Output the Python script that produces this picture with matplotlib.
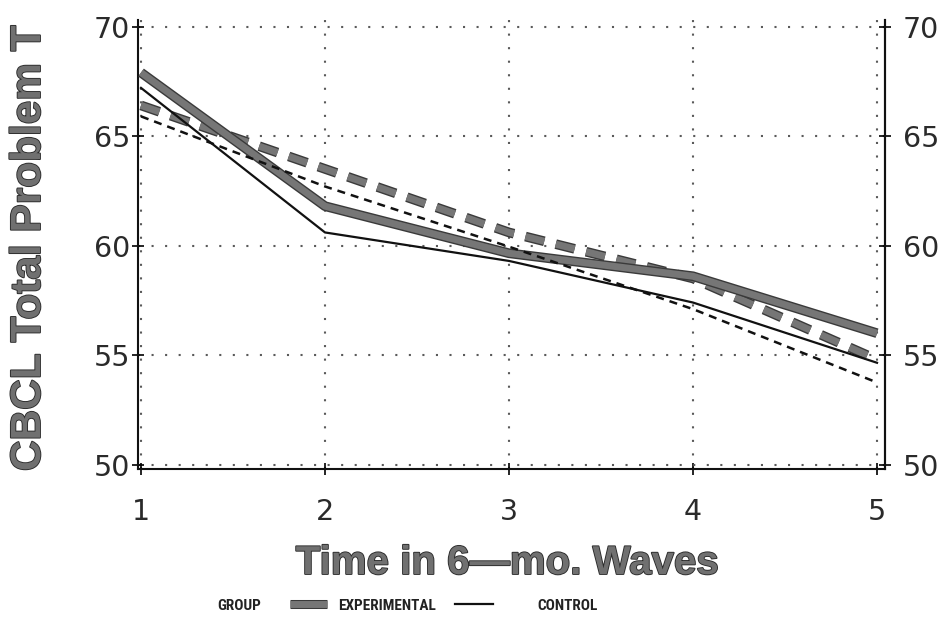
import matplotlib
matplotlib.use("Agg")
import matplotlib.pyplot as plt
import matplotlib.patheffects as pe
from matplotlib.lines import Line2D
from matplotlib import font_manager

# ---- data ----
waves = [1, 2, 3, 4, 5]
exp_observed = [67.9, 61.8, 59.65, 58.6, 56.0]
exp_fitted = [66.4, 63.5, 60.6, 58.5, 54.8]
ctl_observed = [67.2, 60.6, 59.3, 57.4, 54.65]
ctl_fitted = [65.9, 62.7, 59.95, 57.1, 53.75]
y_ticks = [50, 55, 60, 65, 70]
x_label = "Time in 6\u2014mo. Waves"
y_label = "CBCL Total Problem T"
legend_title = "GROUP"
group_names = ["EXPERIMENTAL", "CONTROL"]


def first_font(names):
    for n in names:
        try:
            font_manager.findfont(font_manager.FontProperties(family=n), fallback_to_default=False)
            return n
        except Exception:
            continue
    return None


narrow = first_font(['Liberation Sans Narrow', 'DejaVu Sans Condensed', 'Roboto Condensed'])
leg_family = [narrow, 'DejaVu Sans'] if narrow else ['Liberation Sans', 'DejaVu Sans']
leg_size = 11 if narrow else 9.3

plt.rcParams['font.family'] = ['Liberation Sans', 'DejaVu Sans']

fig = plt.figure(figsize=(9.48, 6.25), dpi=100)
W, H = 948, 625
ax = fig.add_axes([138 / W, 1 - 469 / H, (885 - 138) / W, (469 - 20) / H])

gray = '#767676'
edge = '#3a3a3a'

# experimental observed (thick gray solid)
ax.plot(waves, exp_observed, color=gray, lw=5.0, solid_capstyle='butt', zorder=4,
        path_effects=[pe.Stroke(linewidth=7.0, foreground=edge), pe.Normal()])
# experimental fitted (thick gray dashed)
ax.plot(waves, exp_fitted, color=gray, lw=5.0, linestyle=(0, (2.8, 1.7)),
        dash_capstyle='butt', zorder=3,
        path_effects=[pe.Stroke(linewidth=7.0, foreground=edge), pe.Normal()])
# control observed (thin black solid)
ax.plot(waves, ctl_observed, color='#111111', lw=1.6, zorder=5)
# control fitted (thin black dashed)
ax.plot(waves, ctl_fitted, color='#111111', lw=1.8, linestyle=(0, (3.2, 2.4)), zorder=5)

ax.set_xlim(1 - 3 / 184, 5 + 8 / 184)
ax.set_ylim(49.8, 70.3)
ax.set_xticks(waves)
ax.set_yticks(y_ticks)

ax.grid(True, color='#5a5a5a', linestyle=(0, (1, 5.5)), linewidth=1.5)
ax.set_axisbelow(True)

for s in ['left', 'bottom', 'right']:
    ax.spines[s].set_color('#111111')
    ax.spines[s].set_linewidth(1.5)
ax.spines['top'].set_visible(False)

tick_font = {'family': ['DejaVu Sans'], 'size': 20.5}
ax.tick_params(axis='y', left=True, right=False, direction='inout', length=8, width=1.2,
               labelcolor='#2a2a2a', pad=1.5)
ax.tick_params(axis='x', direction='inout', length=8, width=1.2, labelcolor='#2a2a2a', pad=17)
ax.set_yticklabels([str(v) for v in y_ticks], fontdict=tick_font)
ax.set_xticklabels([str(v) for v in waves], fontdict=tick_font)

# right-hand axis with its own labels
axr = ax.twinx()
axr.set_ylim(ax.get_ylim())
axr.set_yticks(y_ticks)
axr.set_yticklabels([str(v) for v in y_ticks], fontdict=tick_font)
axr.tick_params(axis='y', direction='inout', length=8, width=1.2, labelcolor='#2a2a2a', pad=9)
for s in ['left', 'bottom', 'top']:
    axr.spines[s].set_visible(False)
axr.spines['right'].set_linewidth(1.5)
axr.spines['right'].set_color('#111111')

lab_fx = [pe.withStroke(linewidth=1.3, foreground='#2a2a2a')]
ax.set_xlabel(x_label, fontsize=29, fontweight='bold', color='#707070', path_effects=lab_fx)
ax.set_ylabel(y_label, fontsize=30.5, fontweight='bold', color='#707070', path_effects=lab_fx)
ax.xaxis.set_label_coords((507 - 138) / 747, (469 - 563) / 449)
ax.xaxis.label.set_va('center')
ax.yaxis.set_label_coords((29 - 138) / 747, (469 - 248) / 449)
ax.yaxis.label.set_va('center')

# legend row (manual layout)
ly = 1 - 606 / H
leg_kw = dict(fontsize=leg_size, fontweight='bold', color='#222222', ha='left', va='center',
              family=leg_family)
fig.text(217 / W, ly, legend_title, **leg_kw)
fig.add_artist(Line2D([290 / W, 327 / W], [ly + 2 / H, ly + 2 / H], transform=fig.transFigure,
                      color=gray, lw=5.0, solid_capstyle='butt',
                      path_effects=[pe.Stroke(linewidth=6.5, foreground=edge), pe.Normal()]))
fig.text(338 / W, ly, group_names[0], **leg_kw)
fig.add_artist(Line2D([455 / W, 493 / W], [ly + 2 / H, ly + 2 / H], transform=fig.transFigure,
                      color='#111111', lw=1.6))
fig.text(537 / W, ly, group_names[1], **leg_kw)

fig.savefig('out.png', dpi=100)
